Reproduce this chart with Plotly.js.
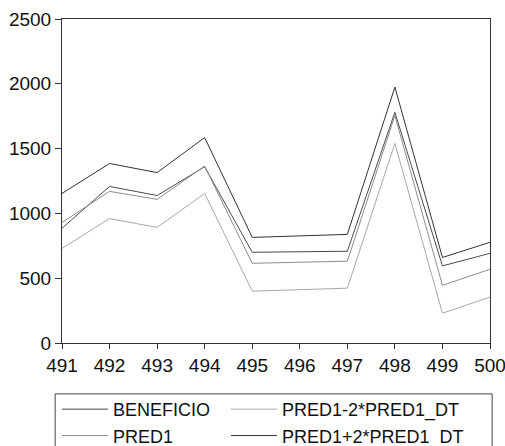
<!DOCTYPE html>
<html>
<head>
<meta charset="utf-8">
<script src="https://cdn.plot.ly/plotly-3.0.1.min.js"></script>
<style>
  html, body { margin: 0; padding: 0; background: #fff; }
  #chart { width: 505px; height: 446px; }
</style>
</head>
<body>
<div id="chart"></div>
<script>
// Observations 491..500: actual profit, forecast and its ±2 s.e. band
const obs = [491, 492, 493, 494, 495, 496, 497, 498, 499, 500];
const beneficio = [885, 1208, 1138, 1360, 700, 705, 708, 1780, 595, 692];
const pred1 = [930, 1170, 1108, 1365, 615, 622, 631, 1755, 445, 569];
const pred1Lower = [730, 960, 892, 1154, 400, 410, 423, 1540, 230, 354];
const pred1Upper = [1154, 1385, 1315, 1585, 815, 826, 838, 1975, 660, 777];

const seriesNames = ['BENEFICIO', 'PRED1', 'PRED1-2*PRED1_DT', 'PRED1+2*PRED1_DT'];
const seriesValues = [beneficio, pred1, pred1Lower, pred1Upper];
const seriesColors = ['#4a4a4a', '#8c8c8c', '#a8a8a8', '#333333'];
// first two entries in the left legend column, the band limits in the right one
const seriesLegend = ['legend', 'legend', 'legend2', 'legend2'];

const traces = seriesNames.map((name, i) => ({
  x: obs,
  y: seriesValues[i],
  name: name,
  type: 'scatter',
  mode: 'lines',
  legend: seriesLegend[i],
  line: { color: seriesColors[i], width: 1 }
}));

const tickFont = { family: '"Liberation Sans", Arial, sans-serif', size: 19, color: '#111' };
const legendFont = { family: '"Liberation Sans", Arial, sans-serif', size: 18, color: '#111' };

const axisStyle = {
  ticks: 'outside',
  tickcolor: '#333',
  showgrid: false,
  zeroline: false,
  showline: true,
  mirror: true,
  linecolor: '#333',
  linewidth: 1,
  tickfont: tickFont,
  ticklabeloverflow: 'allow'
};

const legendStyle = {
  orientation: 'v',
  yanchor: 'top',
  xanchor: 'left',
  y: -0.148,
  borderwidth: 0,
  bgcolor: 'rgba(0,0,0,0)',
  itemwidth: 46,
  tracegroupgap: 0,
  font: legendFont
};

const layout = {
  width: 505,
  height: 446,
  margin: { l: 62, r: 15, t: 19, b: 103, autoexpand: false },
  paper_bgcolor: '#fff',
  plot_bgcolor: '#fff',
  font: tickFont,
  showlegend: true,
  xaxis: Object.assign({ range: [491, 500], tickvals: obs, ticklen: 5 }, axisStyle),
  yaxis: Object.assign({ range: [0, 2500], dtick: 500, ticklen: 6 }, axisStyle),
  legend: Object.assign({ x: -0.0117 }, legendStyle),
  legend2: Object.assign({ x: 0.383 }, legendStyle),
  shapes: [{
    // frame around both legend columns
    type: 'rect',
    xref: 'paper', yref: 'paper',
    x0: -0.016, x1: 1.005,
    y0: -0.157, y1: -0.32,
    line: { color: '#444', width: 1 },
    fillcolor: 'rgba(0,0,0,0)'
  }]
};

Plotly.newPlot('chart', traces, layout, { displayModeBar: false, staticPlot: true });
</script>
</body>
</html>
